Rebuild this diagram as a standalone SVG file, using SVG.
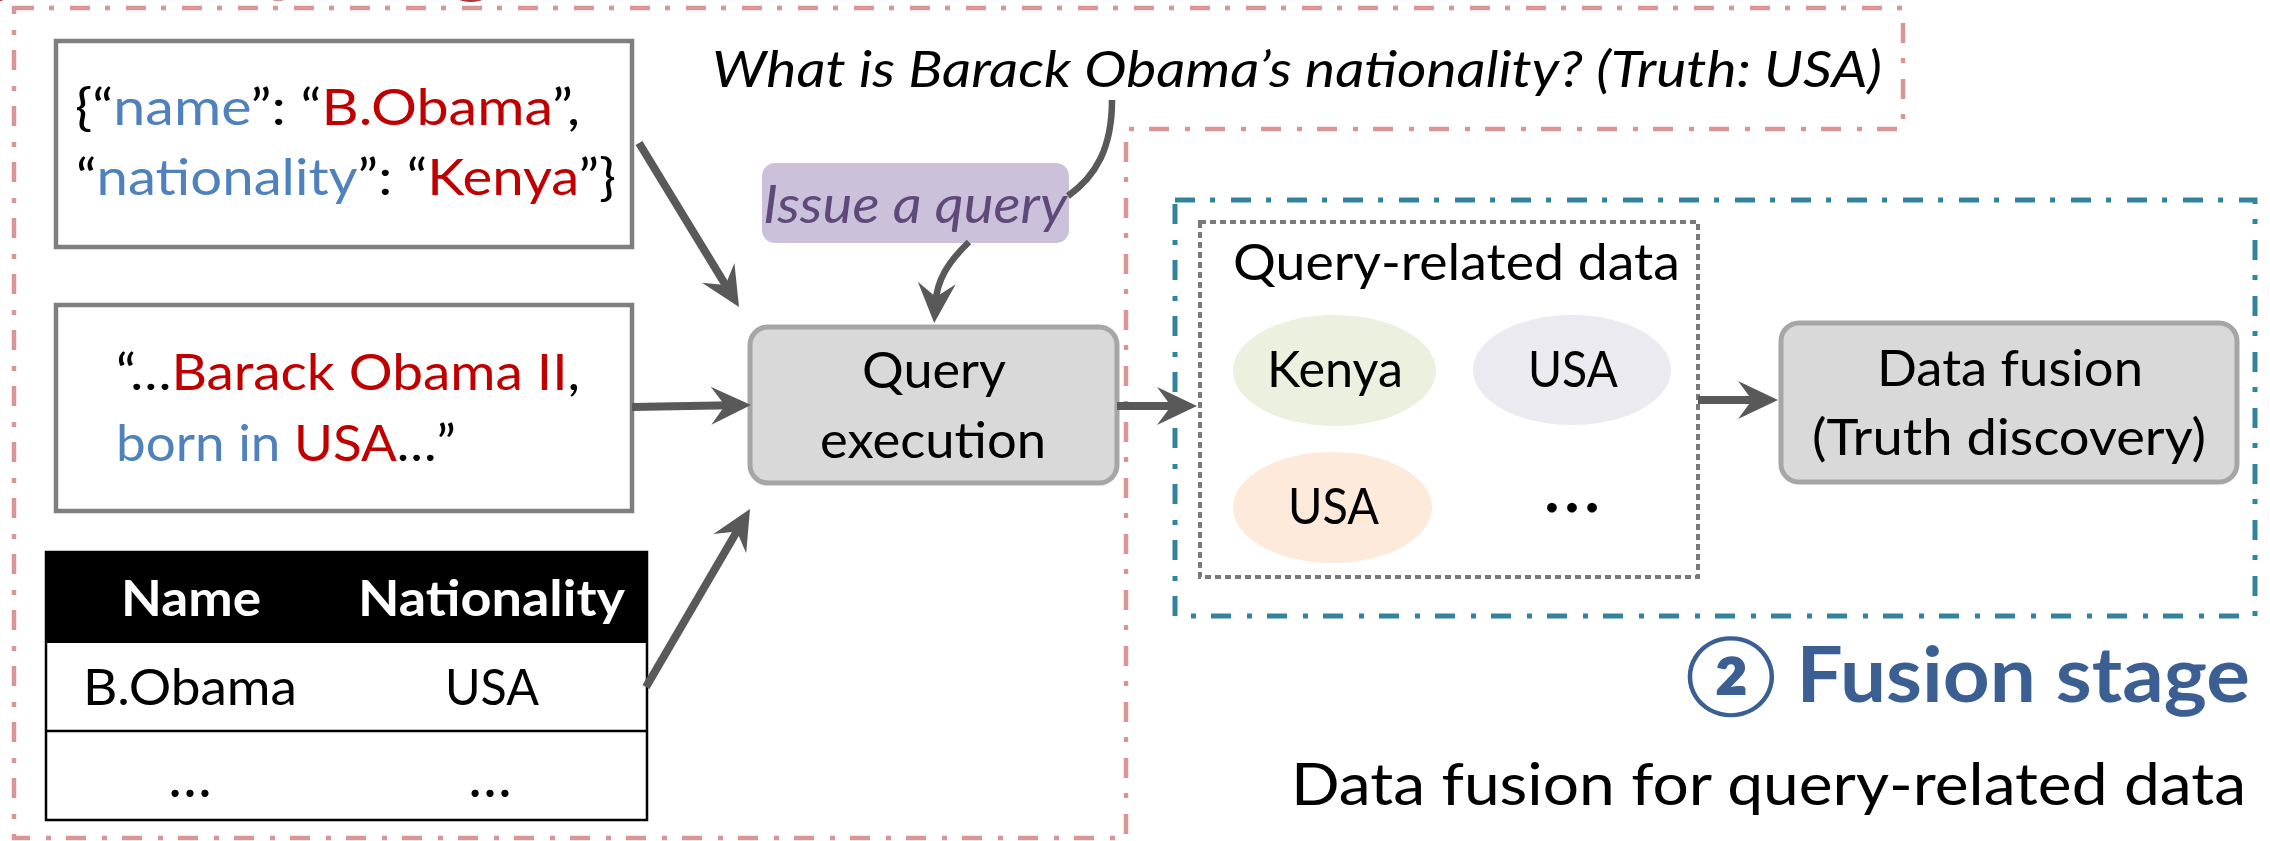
<svg xmlns="http://www.w3.org/2000/svg" width="2270" height="841" viewBox="0 0 2270 841">
  <style>
    text { font-family: Lato, "Noto Sans", "Noto Sans CJK SC", sans-serif; fill: #000; }
    .it { font-style: italic; }
    .b { font-weight: bold; }
    .blue { fill: #4f81bd; }
    .red { fill: #c00000; }
    .srcbox { fill: #fff; stroke: #7f7f7f; stroke-width: 4.5; }
    .proc { fill: #d9d9d9; stroke: #a6a6a6; stroke-width: 5; }
    .stage-q { fill: none; stroke: #d99694; stroke-width: 4.5; stroke-dasharray: 20 15 5 16; }
    .stage-f { fill: none; stroke: #31849b; stroke-width: 5; stroke-dasharray: 20 15 5 16; }
    .dotted { fill: none; stroke: #7a7a7a; stroke-width: 4; stroke-dasharray: 6 4; }
    .conn { fill: none; stroke: #595959; stroke-width: 8; }
    .conn-thin { fill: none; stroke: #595959; stroke-width: 6.5; }
  </style>
  <defs>
    <marker id="head" markerUnits="userSpaceOnUse" markerWidth="64" markerHeight="44" refX="40" refY="22" orient="auto" overflow="visible">
      <path d="M60,22 L20,3 L34,22 L20,41 Z" fill="#595959"/>
    </marker>
  </defs>

  <rect width="2270" height="841" fill="#fff"/>

  <!-- stage frames -->
  <g id="query-stage">
    <path class="stage-q" d="M14,8 H1903 V129 H1126 V838 H14 Z"/>
    <text class="b" x="-64" y="-15" font-size="90" style="fill:#a83a38">① Query stage</text>
  </g>
  <g id="fusion-stage">
    <rect class="stage-f" x="1175" y="200" width="1080" height="416"/>
    <text class="b" x="1685" y="702" font-size="77" textLength="565" lengthAdjust="spacingAndGlyphs" style="fill:#3b5f93">② Fusion stage</text>
    <text x="1291" y="805" font-size="58" textLength="955" lengthAdjust="spacingAndGlyphs">Data fusion for query-related data</text>
  </g>

  <!-- data sources -->
  <g id="json-source">
    <rect class="srcbox" x="56" y="41" width="576" height="206"/>
    <text x="75" y="125" font-size="50" textLength="505" lengthAdjust="spacingAndGlyphs">{“<tspan class="blue">name</tspan>”: “<tspan class="red">B.Obama</tspan>”,</text>
    <text x="76" y="195" font-size="50" textLength="540" lengthAdjust="spacingAndGlyphs">“<tspan class="blue">nationality</tspan>”: “<tspan class="red">Kenya</tspan>”}</text>
  </g>
  <g id="text-source">
    <rect class="srcbox" x="56" y="305" width="576" height="206"/>
    <text x="116" y="390" font-size="50" textLength="464" lengthAdjust="spacingAndGlyphs">“…<tspan class="red">Barack Obama II</tspan>,</text>
    <text x="116" y="461" font-size="50" textLength="340" lengthAdjust="spacingAndGlyphs"><tspan class="blue">born in </tspan><tspan class="red">USA</tspan>…”</text>
  </g>
  <g id="table-source">
    <rect x="46" y="552" width="601" height="90" fill="#000"/>
    <rect x="46" y="552" width="601" height="268" fill="none" stroke="#000" stroke-width="2.5"/>
    <line x1="46" y1="642" x2="647" y2="642" stroke="#000" stroke-width="2"/>
    <line x1="46" y1="731" x2="647" y2="731" stroke="#000" stroke-width="2.5"/>
    <text class="b" x="121" y="616" font-size="50" textLength="140" lengthAdjust="spacingAndGlyphs" style="fill:#fff">Name</text>
    <text class="b" x="358" y="616" font-size="50" textLength="267" lengthAdjust="spacingAndGlyphs" style="fill:#fff">Nationality</text>
    <text x="83" y="705" font-size="50" textLength="214" lengthAdjust="spacingAndGlyphs">B.Obama</text>
    <text x="445" y="705" font-size="50" textLength="94" lengthAdjust="spacingAndGlyphs">USA</text>
    <text x="190" y="797" font-size="58" text-anchor="middle">…</text>
    <text x="490" y="797" font-size="58" text-anchor="middle">…</text>
  </g>

  <!-- question -->
  <g id="question">
    <text class="it" x="712" y="87" font-size="50" textLength="1170" lengthAdjust="spacingAndGlyphs">What is Barack Obama’s nationality? (Truth: USA)</text>
  </g>
  <g id="issue-query">
    <rect x="762" y="163" width="307" height="80" rx="13" fill="#ccc1da"/>
    <text class="it" x="763" y="223" font-size="52" textLength="304" lengthAdjust="spacingAndGlyphs" style="fill:#5f497a">Issue a query</text>
  </g>

  <!-- processing -->
  <g id="query-execution">
    <rect class="proc" x="750" y="327" width="367" height="156" rx="18"/>
    <text x="934" y="388" font-size="51" text-anchor="middle" textLength="144" lengthAdjust="spacingAndGlyphs">Query</text>
    <text x="933" y="458" font-size="51" text-anchor="middle" textLength="226" lengthAdjust="spacingAndGlyphs">execution</text>
  </g>
  <g id="query-related-data">
    <rect class="dotted" x="1200" y="222" width="498" height="355"/>
    <text x="1233" y="280" font-size="50" textLength="447" lengthAdjust="spacingAndGlyphs">Query-related data</text>
    <ellipse cx="1334.5" cy="370.5" rx="101.5" ry="55.5" fill="#ebf1de"/>
    <ellipse cx="1572" cy="370" rx="99" ry="55" fill="#eceaf1"/>
    <ellipse cx="1332.5" cy="507.5" rx="99.5" ry="55.5" fill="#fdeada"/>
    <text x="1267" y="387" font-size="50" textLength="136" lengthAdjust="spacingAndGlyphs">Kenya</text>
    <text x="1528" y="387" font-size="50" textLength="90" lengthAdjust="spacingAndGlyphs">USA</text>
    <text x="1288" y="524" font-size="50" textLength="91" lengthAdjust="spacingAndGlyphs">USA</text>
    <text x="1572" y="512" font-size="78" text-anchor="middle">…</text>
  </g>
  <g id="data-fusion">
    <rect class="proc" x="1781" y="323" width="456" height="159" rx="18"/>
    <text x="1877" y="386" font-size="51" textLength="266" lengthAdjust="spacingAndGlyphs">Data fusion</text>
    <text x="1812" y="455" font-size="51" textLength="394" lengthAdjust="spacingAndGlyphs">(Truth discovery)</text>
  </g>

  <!-- connectors -->
  <g id="connectors">
    <line class="conn" x1="639" y1="143" x2="728.6" y2="290" marker-end="url(#head)"/>
    <line class="conn" x1="632" y1="407" x2="731" y2="405.3" marker-end="url(#head)"/>
    <line class="conn" x1="646" y1="687" x2="739.9" y2="526.3" marker-end="url(#head)"/>
    <line class="conn" x1="1117" y1="406" x2="1177" y2="406" marker-end="url(#head)"/>
    <line class="conn" x1="1698" y1="400" x2="1758" y2="400" marker-end="url(#head)"/>
    <path class="conn-thin" d="M1112,100 C1112,148 1096,176 1068,196"/>
    <path class="conn-thin" d="M969,242 C948,262 937,280 935.5,303" marker-end="url(#head)"/>
  </g>
</svg>
